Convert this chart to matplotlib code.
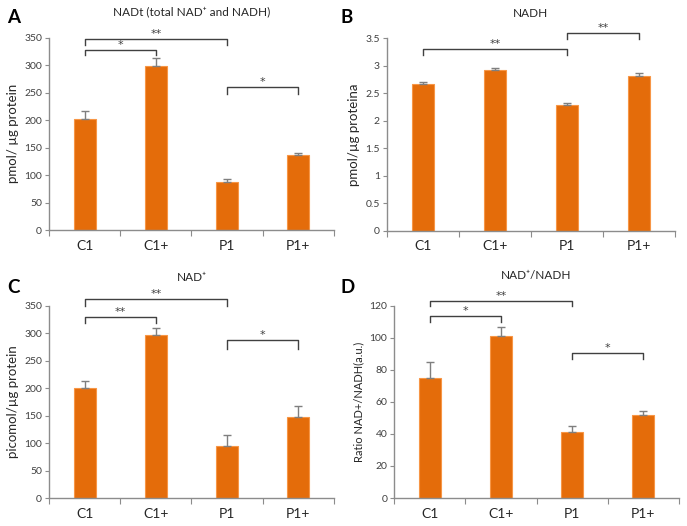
import numpy as np
import matplotlib.pyplot as plt

plt.rcParams['font.family'] = ['Lato', 'DejaVu Sans']

groups = ['C1', 'C1+', 'P1', 'P1+']

# A: NADt
nadt = [202, 298, 88, 137]
nadt_err = [14, 15, 4, 3]
# B: NADH
nadh = [2.67, 2.93, 2.29, 2.82]
nadh_err = [0.03, 0.03, 0.04, 0.05]
# C: NAD+
nadp = [200, 296, 95, 147]
nadp_err = [13, 14, 20, 20]
# D: ratio
ratio = [75, 101, 41, 52]
ratio_err = [10, 5.5, 4, 2]

# brackets: (i, j, top, drop, label)
sig_a = [(0, 1, 328, 318, '*'), (0, 2, 348, 337, '**'), (2, 3, 260, 248, '*')]
sig_b = [(0, 2, 3.30, 3.20, '**'), (2, 3, 3.59, 3.49, '**')]
sig_c = [(0, 1, 330, 318, '**'), (0, 2, 362, 350, '**'), (2, 3, 288, 272, '*')]
sig_d = [(0, 1, 113.7, 110, '*'), (0, 2, 123, 120, '**'), (2, 3, 90.3, 87, '*')]

bar_color = '#E46C0A'
edge_color = '#F79646'
axis_color = '#8C8C8C'
text_color = '#404040'


def panel(rect, vals, errs, ymax, ystep, ylabel, title, title_y, letter, sigs,
          ylab_size=9.5, letter_pos=(0, 0)):
    ax = fig.add_axes(rect)
    x = np.arange(len(groups))
    ax.bar(x, vals, width=0.31, color=bar_color, edgecolor=edge_color,
           linewidth=0.8, zorder=2)
    ax.errorbar(x, vals, yerr=[np.zeros(len(errs)), errs], fmt='none',
                ecolor='#7F7F7F', elinewidth=1, capsize=3, capthick=1, zorder=3)
    ax.set_xlim(-0.5, 3.5)
    ax.set_ylim(0, ymax)
    ticks = np.arange(0, ymax + ystep / 2, ystep)
    ax.set_yticks(ticks)
    ax.set_yticklabels([f'{v:g}' for v in ticks])
    ax.set_xticks(np.arange(-0.5, 4, 1))
    ax.set_xticklabels([])
    ax.set_xticks(x, minor=True)
    ax.set_xticklabels(groups, minor=True, fontsize=10, color='#262626')
    ax.tick_params(axis='x', which='minor', length=0, pad=7)
    ax.tick_params(axis='x', which='major', length=4, color=axis_color, direction='out')
    ax.tick_params(axis='y', length=3, color=axis_color, labelsize=7.5,
                   labelcolor=text_color, pad=2)
    for s in ['top', 'right']:
        ax.spines[s].set_visible(False)
    for s in ['left', 'bottom']:
        ax.spines[s].set_color(axis_color)
        ax.spines[s].set_linewidth(1)
    ax.set_ylabel(ylabel, fontsize=ylab_size, color='#262626', labelpad=4)
    fig.text(rect[0] + rect[2] / 2, title_y, title, fontsize=8.5,
             color='#262626', ha='center', va='center')
    for i, j, top, drop, lab in sigs:
        ax.plot([i, i, j, j], [drop, top, top, drop], color='#404040', lw=1,
                clip_on=False, zorder=4)
        ax.text((i + j) / 2, top, lab, ha='center', va='bottom',
                fontsize=8, color='#404040', clip_on=False,
                family='DejaVu Sans')
    fig.text(letter_pos[0], letter_pos[1], letter, fontsize=13.5,
             fontweight='bold', color='black', ha='left', va='center')
    return ax


fig = plt.figure(figsize=(6.87, 5.26), dpi=100)

panel([0.0713, 0.5627, 0.4148, 0.3656], nadt, nadt_err, 350, 50,
      'pmol/ µg protein', 'NADt (total NAD⁺ and NADH)', 0.977, 'A', sig_a,
      letter_pos=(0.010, 0.966))
panel([0.563, 0.5614, 0.4195, 0.3656], nadh, nadh_err, 3.5, 0.5,
      'pmol/µg proteina', 'NADH', 0.975, 'B', sig_b,
      letter_pos=(0.495, 0.966))
panel([0.0713, 0.0532, 0.4148, 0.3656], nadp, nadp_err, 350, 50,
      'picomol/µg protein', 'NAD⁺', 0.473, 'C', sig_c,
      letter_pos=(0.010, 0.4525))
panel([0.574, 0.0532, 0.414, 0.3656], ratio, ratio_err, 120, 20,
      'Ratio NAD+/NADH(a.u.)', 'NAD⁺/NADH', 0.477, 'D', sig_d,
      ylab_size=8, letter_pos=(0.495, 0.4525))

fig.savefig('out.png', dpi=100)
